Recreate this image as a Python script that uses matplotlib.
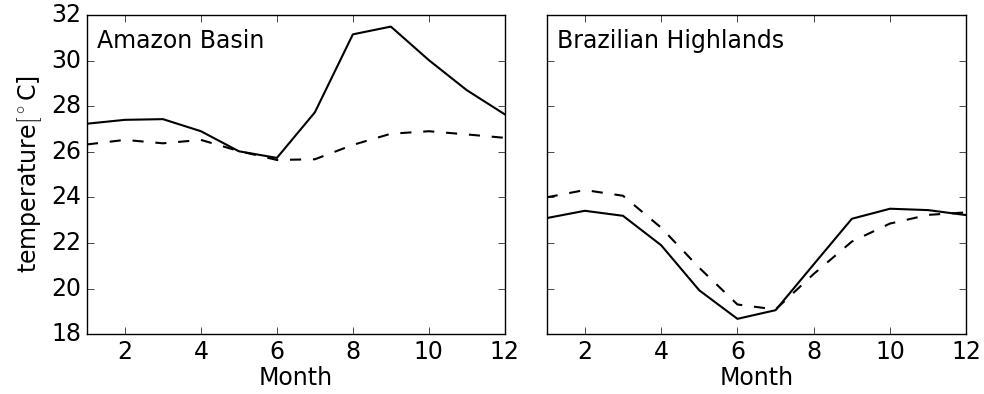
import matplotlib
matplotlib.use("Agg")
import matplotlib.pyplot as plt

months = list(range(1, 13))

amazon_solid = [27.23, 27.40, 27.43, 26.90, 26.02, 25.73, 27.73, 31.15, 31.49, 30.02, 28.70, 27.64]
amazon_dashed = [26.32, 26.52, 26.37, 26.52, 26.03, 25.64, 25.67, 26.30, 26.79, 26.90, 26.76, 26.61]
highlands_solid = [23.09, 23.41, 23.19, 21.90, 19.92, 18.67, 19.05, 21.06, 23.06, 23.50, 23.44, 23.22]
highlands_dashed = [24.00, 24.32, 24.07, 22.67, 20.91, 19.30, 19.08, 20.64, 22.06, 22.85, 23.23, 23.34]

plt.style.use("classic")
plt.rcParams["font.size"] = 17
plt.rcParams["figure.facecolor"] = "white"
plt.rcParams["xtick.major.size"] = 5
plt.rcParams["ytick.major.size"] = 5

fig = plt.figure(figsize=(9.84, 3.94), dpi=100)
ax1 = fig.add_axes([0.0884, 0.152, 0.4246, 0.810])
ax2 = fig.add_axes([0.5556, 0.152, 0.4264, 0.810], sharey=ax1)

for ax, solid, dashed, name in [(ax1, amazon_solid, amazon_dashed, "Amazon Basin"),
                                (ax2, highlands_solid, highlands_dashed, "Brazilian Highlands")]:
    ax.plot(months, solid, "k-", lw=1.5)
    ax.plot(months, dashed, "k-", lw=1.5, dashes=(8, 8.5))
    ax.set_xlim(1, 12)
    ax.set_ylim(18, 32)
    ax.set_xticks([2, 4, 6, 8, 10, 12])
    ax.set_yticks(range(18, 33, 2))
    ax.set_xlabel("Month", labelpad=2)
    ax.text(0.025, 0.955, name, transform=ax.transAxes, va="top", ha="left")

ax1.set_ylabel(r"temperature$[^\circ$C]")
plt.setp(ax2.get_yticklabels(), visible=False)

fig.savefig("out.png", dpi=100)
